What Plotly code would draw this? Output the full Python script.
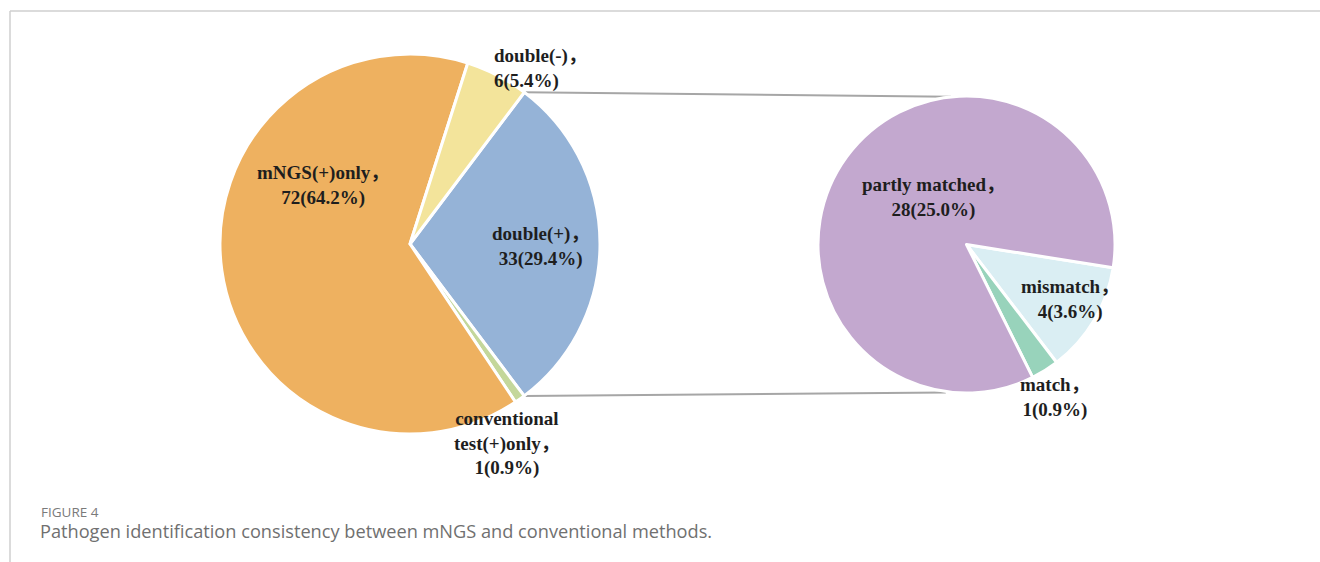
import math
import plotly.graph_objects as go

W, H = 1320, 562

# Main pie: all specimens
main_names = ["double(+)", "conventional<br>test(+)only", "mNGS(+)only", "double(-)"]
main_counts = [33, 1, 72, 6]
main_pcts = ["29.4%", "0.9%", "64.2%", "5.4%"]
main_colors = ["#95B3D7", "#C4D79B", "#EEB160", "#F3E49B"]

# Breakdown of the double(+) group
sub_names = ["mismatch", "match", "partly matched"]
sub_counts = [4, 1, 28]
sub_pcts = ["3.6%", "0.9%", "25.0%"]
sub_colors = ["#DAEEF3", "#98D3BB", "#C3A8CF"]

# Pie geometry in pixels
L_CX, L_CY, L_R = 410, 244, 190
R_CX, R_CY, R_R = 966.5, 244.5, 148.5
L_ROT = 37
R_ROT = 99


def px(x):
    return x / W


def py(y):
    return 1 - y / H


def domain(cx, cy, r):
    return dict(x=[px(cx - r), px(cx + r)], y=[py(cy + r), py(cy - r)])


fig = go.Figure()
fig.add_trace(go.Pie(
    values=main_counts, labels=main_names, sort=False, direction="clockwise",
    rotation=L_ROT, textinfo="none", hoverinfo="label+value",
    marker=dict(colors=main_colors, line=dict(color="white", width=3)),
    domain=domain(L_CX, L_CY, L_R), showlegend=False,
))
fig.add_trace(go.Pie(
    values=sub_counts, labels=sub_names, sort=False, direction="clockwise",
    rotation=R_ROT, textinfo="none", hoverinfo="label+value",
    marker=dict(colors=sub_colors, line=dict(color="white", width=3)),
    domain=domain(R_CX, R_CY, R_R), showlegend=False,
))

# Connector lines from the double(+) slice edges to the breakdown pie
total = sum(main_counts)
a0 = math.radians(L_ROT)
a1 = math.radians(L_ROT + main_counts[0] / total * 360)
p_top = (L_CX + L_R * math.sin(a0), L_CY - L_R * math.cos(a0))
p_bot = (L_CX + L_R * math.sin(a1), L_CY - L_R * math.cos(a1))
q_top = (R_CX - R_R * math.sin(math.radians(6)), R_CY - R_R * math.cos(math.radians(6)))
q_bot = (R_CX - R_R * math.sin(math.radians(8)), R_CY + R_R * math.cos(math.radians(8)) + 1)

shapes = []
for p, q in [(p_top, q_top), (p_bot, q_bot)]:
    shapes.append(dict(type="line", xref="paper", yref="paper",
                       x0=px(p[0]), y0=py(p[1]), x1=px(q[0]), y1=py(q[1]),
                       line=dict(color="#A6A6A6", width=2), layer="below"))

# Panel frame
shapes.append(dict(type="line", xref="paper", yref="paper", x0=px(10), y0=py(11),
                   x1=1, y1=py(11), line=dict(color="#CFCFCF", width=1.5)))
shapes.append(dict(type="line", xref="paper", yref="paper", x0=px(10), y0=py(11),
                   x1=px(10), y1=0, line=dict(color="#CFCFCF", width=1.5)))

label_font = dict(family="Liberation Serif, Noto Sans CJK SC, Times New Roman, serif",
                  size=19, color="#1E1E1E")

# Label anchor points (pixels) and alignment for each slice label
main_label_pos = [(540, 246, "center"), (507, 443, "center"), (323, 186, "center"), (492, 68, "left")]
sub_label_pos = [(1070, 299, "center"), (1055, 397, "center"), (933, 197, "center")]

annotations = []


def add_labels(names, counts, pcts, positions):
    for name, n, pct, (x, y, al) in zip(names, counts, pcts, positions):
        annotations.append(dict(
            text=f"<b>{name}，<br>{n}({pct})</b>", x=px(x), y=py(y),
            xref="paper", yref="paper", xanchor=al, yanchor="middle", align=al,
            showarrow=False, font=label_font))


add_labels(main_names, main_counts, main_pcts, main_label_pos)
add_labels(sub_names, sub_counts, sub_pcts, sub_label_pos)

annotations.append(dict(text="FIGURE 4", x=px(39), y=py(512), xref="paper", yref="paper",
                        xanchor="left", yanchor="middle", showarrow=False,
                        font=dict(family="Open Sans, sans-serif", size=13.5, color="#7A7A7A")))
annotations.append(dict(text="Pathogen identification consistency between mNGS and conventional methods.",
                        x=px(38), y=py(531), xref="paper", yref="paper",
                        xanchor="left", yanchor="middle", showarrow=False,
                        font=dict(family="Open Sans, sans-serif", size=18.2, color="#707070")))

fig.update_layout(
    width=W, height=H, margin=dict(l=0, r=0, t=0, b=0),
    paper_bgcolor="white", plot_bgcolor="white",
    shapes=shapes, annotations=annotations,
)

fig.write_html("out.html")
